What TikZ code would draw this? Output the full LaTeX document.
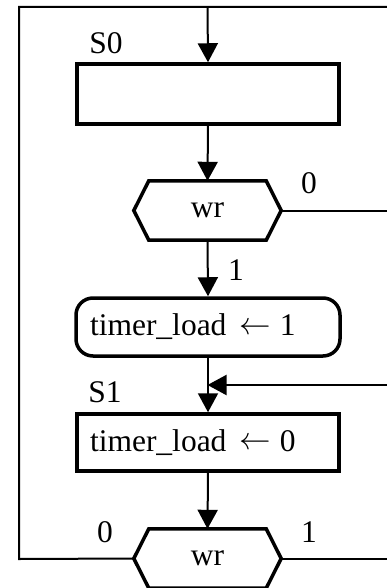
\documentclass[tikz,border=0pt]{standalone}
\usepackage{fontspec}
\setmainfont{Liberation Serif}
\usetikzlibrary{arrows.meta,calc}

% assignment arrow, taken from the math font at 10pt and enlarged to the text size
\newcommand\assignarrow{\hspace{13pt}\raisebox{1.5pt}{\scalebox{3.15}{\fontsize{10pt}{12pt}\selectfont$\leftarrow$}}\hspace{9pt}}

\tikzset{
  txt/.style={font=\fontsize{31.5pt}{36pt}\selectfont},
  lbl/.style={txt, inner sep=0pt},
  conn/.style={line width=2pt},
  flow/.style={conn, -{Triangle[length=19pt,width=20pt]}},
  statebox/.style={txt, draw, line width=3.5pt, minimum width=262pt,
    text width=236pt, inner xsep=13pt, inner ysep=0pt, align=left},
  condbox/.style={txt, draw, line width=3.5pt, rounded corners=17pt,
    minimum width=264pt, text width=236pt, inner xsep=14pt, inner ysep=0pt,
    align=left, minimum height=58pt},
  hexbox/.style={txt, minimum width=147pt, minimum height=59pt, inner sep=0pt},
  hexline/.style={line width=3.5pt, line join=miter},
}

% decision box outline: a hexagon built on the anchors of a plain node
\newcommand\hexoutline[1]{%
  \draw[hexline] (#1.west) -- ($(#1.north west)+(15,0)$)
    -- ($(#1.north east)+(-15,0)$) -- (#1.east)
    -- ($(#1.south east)+(-15,0)$) -- ($(#1.south west)+(15,0)$) -- cycle;}

\begin{document}
\begin{tikzpicture}[x=1pt,y=-1pt]
  \useasboundingbox (0,0) rectangle (387,588);

  % state S0
  \node[statebox, minimum height=60pt] (s0) at (208,94) {};
  \node[lbl] (s0name) at (106,43) {S0};

  % first test of wr
  \node[hexbox] (hexA) at (207.5,210.5) {wr};
  \hexoutline{hexA}
  \node[lbl] (hexAzero) at (309,183) {0};
  \node[lbl] (hexAone) at (236,270) {1};

  % conditional output
  \node[condbox] (load1) at (208,327) {timer\_load\assignarrow 1};

  % state S1
  \node[statebox, minimum height=57pt] (s1) at (208,442.5) {timer\_load\assignarrow 0};
  \node[lbl] (s1name) at (105,392) {S1};

  % second test of wr
  \node[hexbox] (hexB) at (207.5,558.5) {wr};
  \hexoutline{hexB}
  \node[lbl] (hexBzero) at (105,532) {0};
  \node[lbl] (hexBone) at (309,532) {1};

  % routing points
  \coordinate (cornerBL) at (19,559);
  \coordinate (cornerTL) at (19,7);
  \coordinate (entryTop) at (207.5,7);
  \coordinate (exitTop) at (387,7);
  \coordinate (exitA) at (387,210.5);
  \coordinate (join) at (207.5,385);
  \coordinate (entryJoin) at (387,385);
  \coordinate (exitB) at (387,558.5);

  % connectors
  \draw[conn] (hexB.west) -- (cornerBL) -- (cornerTL) -- (exitTop);
  \draw[flow] (entryTop) -- (s0.north);
  \draw[flow] (s0.south) -- (hexA.north);
  \draw[conn] (hexA.east) -- (exitA);
  \draw[flow] (hexA.south) -- (load1.north);
  \draw[flow] (load1.south) -- (s1.north);
  \draw[flow] (entryJoin) -- (join);
  \draw[flow] (s1.south) -- (hexB.north);
  \draw[conn] (hexB.east) -- (exitB);
\end{tikzpicture}
\end{document}
